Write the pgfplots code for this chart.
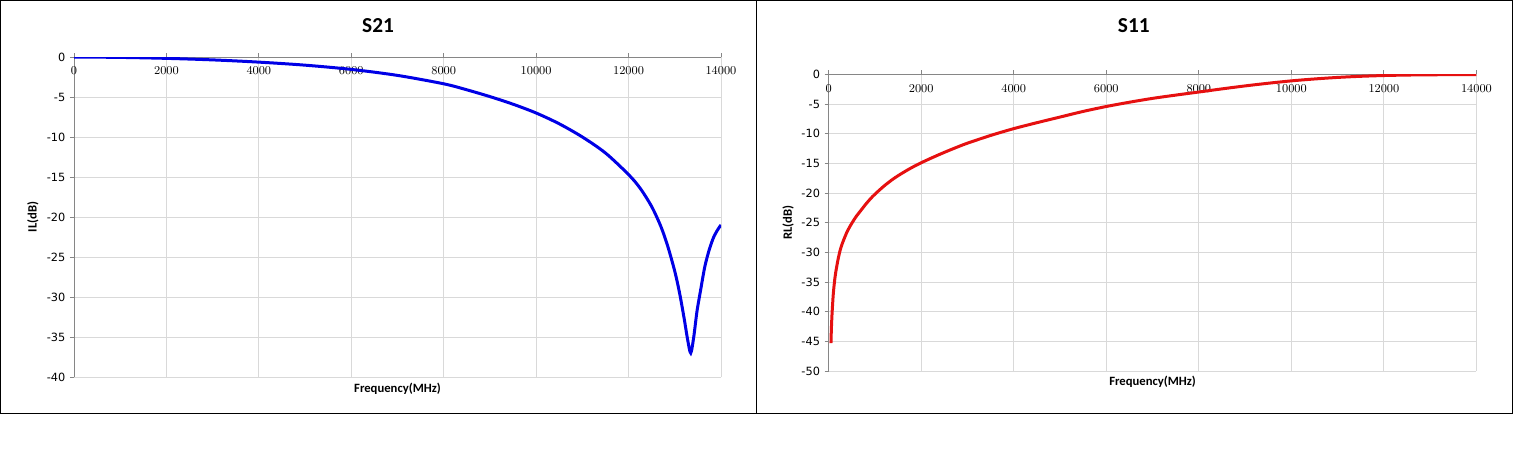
\documentclass[border=0pt]{standalone}
\usepackage{fontspec}
\setmainfont{DejaVu Sans}
\newfontfamily\carlito{Carlito}
\usepackage{pgfplots}
\pgfplotsset{compat=1.18}
\definecolor{gridc}{HTML}{D9D9D9}
\definecolor{axisc}{HTML}{868686}
\definecolor{cblue}{HTML}{0000E6}
\definecolor{cred}{HTML}{E61010}
\pgfplotsset{exstyle/.style={
  scale only axis,
  axis x line*=top, axis y line*=left,
  xmin=0, xmax=14000, xtick={0,2000,...,14000},
  scaled x ticks=false,
  /pgf/number format/1000 sep={},
  grid=major, major grid style={gridc, line width=0.75pt},
  axis line style={axisc, line width=0.75pt},
  tick style={axisc, line width=0.75pt},
  tick align=outside, major tick length=3pt,
  xticklabel style={font=\fontsize{9.5}{10}\selectfont, anchor=north, yshift=-7pt},
  yticklabel={\pgfmathprintnumber[assume math mode=true]{\tick}},
  yticklabel style={font=\fontsize{8.5}{10}\selectfont},
  every axis y label/.style={rotate=90, anchor=center},
  every axis x label/.style={anchor=center},
  label style={font=\carlito\bfseries\fontsize{9.5}{11}\selectfont},
  every axis title/.style={anchor=center, font=\carlito\bfseries\fontsize{16}{18}\selectfont},
}}
\begin{document}
\begin{tikzpicture}
\path[use as bounding box] (0,0) rectangle (1134.75pt,-345pt);
\draw[line width=0.75pt] (0.375pt,-0.375pt) rectangle (567pt,-309.75pt);
\draw[line width=0.75pt] (567pt,-0.375pt) rectangle (1134.2pt,-309.75pt);
\begin{axis}[exstyle,
  at={(55.5pt,-282.75pt)}, anchor=south west,
  width=485.25pt, height=240pt,
  ymin=-40, ymax=0, ytick={-40,-35,...,0},
  title={S21}, title style={at={(axis description cs:0.47,1.097)}},
  xlabel={Frequency(MHz)}, xlabel style={at={(axis description cs:0.5,-0.0375)}},
  ylabel={IL(dB)}, ylabel style={at={(axis description cs:-0.0634,0.5)}},
]
\addplot[cblue, line width=2.25pt, smooth, tension=0.5] coordinates {
(0,0) (1000,-0.05) (2000,-0.17) (3000,-0.36) (4000,-0.64) (5000,-1.02)
(6000,-1.55) (7000,-2.3) (8000,-3.35) (8500,-4.1) (9000,-4.95) (9500,-5.9)
(10000,-7.0) (10500,-8.35) (11000,-10.0) (11500,-12.0) (12000,-14.7)
(12250,-16.4) (12500,-18.7) (12700,-21.2) (12850,-23.7) (13000,-26.8)
(13100,-29.4) (13200,-32.6) (13280,-35.4) (13345,-37.0) (13410,-35.0)
(13480,-31.8) (13560,-29.1) (13650,-26.2) (13750,-24.0) (13850,-22.4)
(13950,-21.4) (14000,-21.0)
};
\end{axis}
\begin{axis}[exstyle,
  at={(621.5pt,-278.25pt)}, anchor=south west,
  width=485.85pt, height=222.5pt,
  ymin=-50, ymax=0, ytick={-50,-45,...,0},
  title={S11}, title style={at={(axis description cs:0.471,1.163)}},
  xlabel={Frequency(MHz)}, xlabel style={at={(axis description cs:0.5,-0.038)}},
  ylabel={RL(dB)}, ylabel style={at={(axis description cs:-0.0624,0.5)}},
]
\addplot[cred, line width=2.25pt, smooth, tension=0.5] coordinates {
(50,-45.3) (55,-43.8) (60,-42.6) (70,-40.8) (80,-39.4) (100,-37.0)
(125,-35.0) (150,-33.5) (200,-31.3) (250,-29.6) (300,-28.4) (400,-26.5)
(500,-25.1) (600,-23.9) (700,-22.9) (800,-21.9) (900,-21.0) (1000,-20.2)
(1200,-18.8) (1400,-17.6) (1600,-16.6) (1800,-15.7) (2000,-14.9)
(2250,-14.0) (2500,-13.15) (2750,-12.35) (3000,-11.6) (3500,-10.3)
(4000,-9.15) (4500,-8.15) (5000,-7.2) (5500,-6.25) (6000,-5.42)
(6500,-4.7) (7000,-4.05) (7500,-3.5) (8000,-2.98) (8500,-2.45)
(9000,-1.95) (9500,-1.5) (10000,-1.1) (10500,-0.78) (11000,-0.52)
(11500,-0.33) (12000,-0.2) (12500,-0.12) (13000,-0.08) (13500,-0.05)
(14000,-0.04)
};
\end{axis}
\end{tikzpicture}
\end{document}
